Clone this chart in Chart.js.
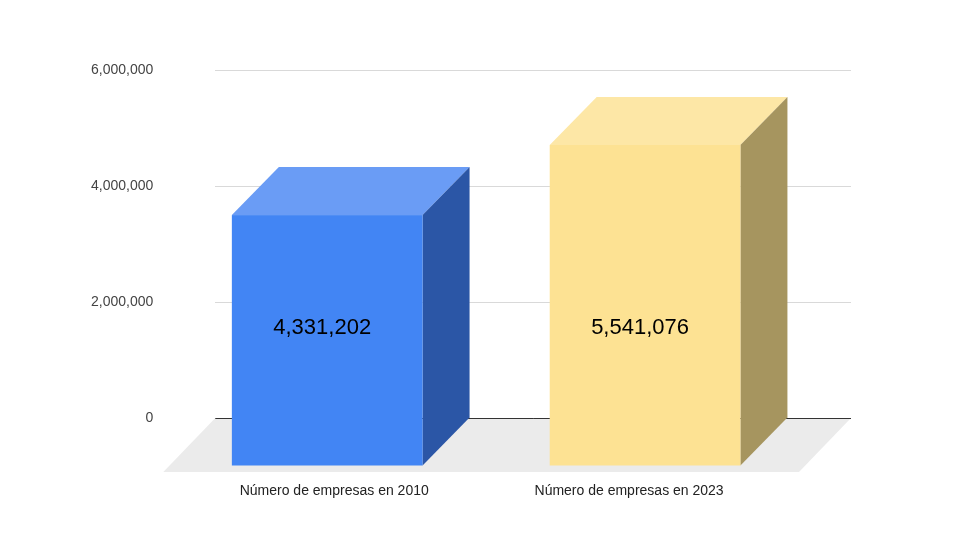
<!DOCTYPE html>
<html>
<head>
<meta charset="utf-8">
<script src="https://cdn.jsdelivr.net/npm/chart.js@4"></script>
<style>
  body { margin: 0; background: #fff; }
  #wrap { width: 960px; height: 540px; }
</style>
</head>
<body>
<div id="wrap"><canvas id="chart"></canvas></div>
<script>
const categories = ['Número de empresas en 2010', 'Número de empresas en 2023'];
const values = [4331202, 5541076];
const valueLabels = ['4,331,202', '5,541,076'];
const frontColors = ['#4285f4', '#fde293'];
const topColors = ['#6a9cf5', '#fde7a6'];
const sideColors = ['#2b56a6', '#a6955f'];

const DX = 47, DY = 48;

// draws the grey floor and the 3D boxes around the library's bars
const box3d = {
    id: 'box3d',
    beforeDatasetsDraw(chart) {
        const ctx = chart.ctx;
        const a = chart.chartArea;
        const y0 = chart.scales.y.getPixelForValue(0);
        ctx.save();
        ctx.fillStyle = '#ebebeb';
        ctx.beginPath();
        ctx.moveTo(a.left, y0);
        ctx.lineTo(a.right, y0);
        ctx.lineTo(a.right - DX - 5, y0 + DY + 6);
        ctx.lineTo(a.left - DX - 5, y0 + DY + 6);
        ctx.closePath();
        ctx.fill();
        ctx.strokeStyle = '#333';
        ctx.lineWidth = 1;
        ctx.beginPath();
        ctx.moveTo(a.left, y0 + 0.5);
        ctx.lineTo(a.right, y0 + 0.5);
        ctx.stroke();
        ctx.restore();
    },
    afterDatasetsDraw(chart) {
        const ctx = chart.ctx;
        const bars = chart.getDatasetMeta(0).data;
        ctx.save();
        bars.forEach((bar, i) => {
            const w = bar.width;
            const bx = bar.x - w / 2, btop = bar.y, bbase = bar.base;
            const fx = bx - DX, ftop = btop + DY, fbase = bbase + DY;
            // top
            ctx.fillStyle = topColors[i];
            ctx.beginPath();
            ctx.moveTo(fx, ftop); ctx.lineTo(fx + w, ftop);
            ctx.lineTo(bx + w, btop); ctx.lineTo(bx, btop);
            ctx.closePath(); ctx.fill();
            // side
            ctx.fillStyle = sideColors[i];
            ctx.beginPath();
            ctx.moveTo(fx + w, ftop); ctx.lineTo(bx + w, btop);
            ctx.lineTo(bx + w, bbase); ctx.lineTo(fx + w, fbase);
            ctx.closePath(); ctx.fill();
            // front
            ctx.fillStyle = frontColors[i];
            ctx.fillRect(fx, ftop, w, fbase - ftop);
            // value label
            ctx.fillStyle = '#000';
            ctx.font = '22px Arial, "Liberation Sans"';
            ctx.textAlign = 'center';
            ctx.textBaseline = 'middle';
            ctx.fillText(valueLabels[i], fx + w / 2 - 5, 328);
            // category label
            ctx.fillStyle = '#222';
            ctx.font = '14px Arial, "Liberation Sans"';
            ctx.fillText(categories[i], fx + w / 2 + (i === 0 ? 7 : -16), 491);
        });
        ctx.restore();
    }
};

new Chart(document.getElementById('chart'), {
    type: 'bar',
    data: {
        labels: categories,
        datasets: [{
            data: values,
            backgroundColor: 'rgba(0,0,0,0)',
            categoryPercentage: 0.6,
            barPercentage: 1
        }]
    },
    options: {
        responsive: true,
        maintainAspectRatio: false,
        animation: false,
        layout: { padding: { left: 29, right: 109, top: 18, bottom: 122 } },
        plugins: { legend: { display: false }, tooltip: { enabled: false } },
        scales: {
            x: { display: false },
            y: {
                min: 0, max: 6000000,
                ticks: {
                    stepSize: 2000000,
                    padding: 62,
                    color: '#444',
                    font: { family: 'Arial, "Liberation Sans"', size: 14 },
                    callback: v => v.toLocaleString('en-US')
                },
                border: { display: false },
                grid: {
                    color: c => c.tick.value === 0 ? 'rgba(0,0,0,0)' : '#d9d9d9',
                    drawTicks: false
                }
            }
        }
    },
    plugins: [box3d]
});
</script>
</body>
</html>
